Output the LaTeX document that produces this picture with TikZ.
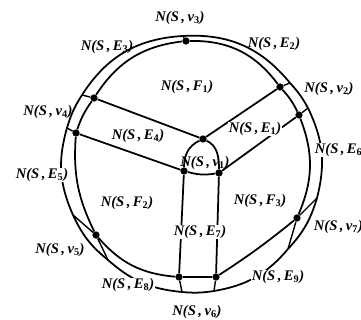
\documentclass[tikz,border=0pt]{standalone}
\usepackage{fontspec}
\setmainfont{Liberation Serif}
\usepackage{tikz}
\newcommand{\nb}[2]{{\fontsize{12.5}{14}\selectfont\bfseries\itshape N(S\,,\,#1$_{\mathbf{#2}}$)}}
\tikzset{
  ln/.style={line width=1.5pt,black},
  bar/.style={line width=1.2pt,black},
  jt/.style={circle,fill=black,minimum size=2.2mm,inner sep=0pt},
  lb/.style={inner sep=0.5pt},
  lbw/.style={inner sep=0.5pt,fill=white}
}
\begin{document}
\begin{tikzpicture}[x=0.03cm,y=0.03cm]
\useasboundingbox (0,0) rectangle (361,320);
\clip (0,0) rectangle (361,320);
% junctions on the inner ring and in the middle
\node[jt] (d3) at (186,279) {}; \node[jt] (d2a) at (280,233) {}; \node[jt] (d2b) at (299,205) {};
\node[jt] (d4a) at (94,222) {}; \node[jt] (d4b) at (76,187) {}; \node[jt] (d5) at (96,85) {};
\node[jt] (d6a) at (179,43) {}; \node[jt] (d6b) at (216,43) {}; \node[jt] (d7) at (297,102) {};
\node[jt] (c1) at (203,181) {}; \node[jt] (c2) at (184,149) {}; \node[jt] (c3) at (219,147) {};
% points on the outer ring
\coordinate (o3) at (183,284); \coordinate (o2a) at (290,237); \coordinate (o2b) at (308,212);
\coordinate (o7a) at (317,122); \coordinate (o7b) at (288,71); \coordinate (o6b) at (214,29);
\coordinate (o6a) at (182,28); \coordinate (o5b) at (108,60); \coordinate (o5a) at (73,105);
\coordinate (o4b) at (67,192); \coordinate (o4a) at (82,225);
% outer ring
\draw[ln] (o3) to[bend left=27] (o2a);
\draw[ln] (o2a) to[bend left=7] (o2b);
\draw[ln] (o2b) to[bend left=20] (o7a);
\draw[ln] (o7a) to[bend left=13] (o7b);
\draw[ln] (o7b) to[bend left=20] (o6b);
\draw[ln] (o6b) to[bend left=7] (o6a);
\draw[ln] (o6a) to[bend left=18] (o5b);
\draw[ln] (o5b) to[bend left=13] (o5a);
\draw[ln] (o5a) to[bend left=20] (o4b);
\draw[ln] (o4b) to[bend left=8] (o4a);
\draw[ln] (o4a) to[bend left=27] (o3);
% inner ring
\draw[ln] (d3) to[bend left=27] (d2a);
\draw[ln] (d2a) to[bend left=8] (d2b);
\draw[ln] (d2b) to[bend left=22] (d7);
\draw[ln] (d7) to[bend left=3] (d6b);
\draw[ln] (d6b) -- (d6a);
\draw[ln] (d6a) to[bend left=22] (d5);
\draw[ln] (d5) to[bend left=15] (d4b);
\draw[ln] (d4b) to[bend left=8] (d4a);
\draw[ln] (d4a) to[bend left=25] (d3);
% short bars between the rings
\draw[bar] (d3) -- (o3);
\draw[bar] (d2a) -- (o2a);
\draw[bar] (d2b) -- (o2b);
\draw[bar] (d4a) -- (o4a);
\draw[bar] (d4b) -- (o4b);
\draw[bar] (d5) -- (o5a);
\draw[bar] (d5) -- (o5b);
\draw[bar] (d7) -- (o7a);
\draw[bar] (d7) -- (o7b);
\draw[bar] (d6a) -- (o6a);
\draw[bar] (d6b) -- (o6b);
% middle
\draw[ln] (d4a) -- (c1);
\draw[ln] (d4b) -- (c2);
\draw[ln] (c1) -- (d2a);
\draw[ln] (c3) -- (d2b);
\draw[ln] (c1) to[out=205,in=90] (c2);
\draw[ln] (c1) to[out=-25,in=90] (c3);
\draw[ln] (c2) to[bend right=12] (c3);
\draw[ln] (c2) -- (d6a);
\draw[ln] (c3) -- (d6b);
% labels
\node[lb] (lv3) at (180,302) {\nb{v}{3}};
\node[lb] (le3) at (107,273) {\nb{E}{3}};
\node[lb] (le2) at (274,276) {\nb{E}{2}};
\node[lb] (lf1) at (187,233) {\nb{F}{1}};
\node[lb] (lv2) at (329,231) {\nb{v}{2}};
\node[lb] (lv4) at (48,208) {\nb{v}{4}};
\node[lb] (le4) at (138,184) {\nb{E}{4}};
\node[lbw] (le1) at (255,191) {\nb{E}{1}};
\node[lb] (lv1) at (205,157) {\nb{v}{1}};
\node[lbw,anchor=west] (le6) at (314,170) {\nb{E}{6}};
\node[lb,anchor=west] (lv7) at (313,93) {\nb{v}{7}};
\node[lbw] (le5) at (42,145) {\nb{E}{5}};
\node[lb] (lf2) at (127,117) {\nb{F}{2}};
\node[lb] (lf3) at (260,119) {\nb{F}{3}};
\node[lb] (lv5) at (60,70) {\nb{v}{5}};
\node[lbw] (le8) at (128,35) {\nb{E}{8}};
\node[lbw] (le9) at (278,43) {\nb{E}{9}};
\node[lb] (lv6) at (197,8) {\nb{v}{6}};
\node[lbw] (le7) at (200,88) {\nb{E}{7}};
\end{tikzpicture}
\end{document}
